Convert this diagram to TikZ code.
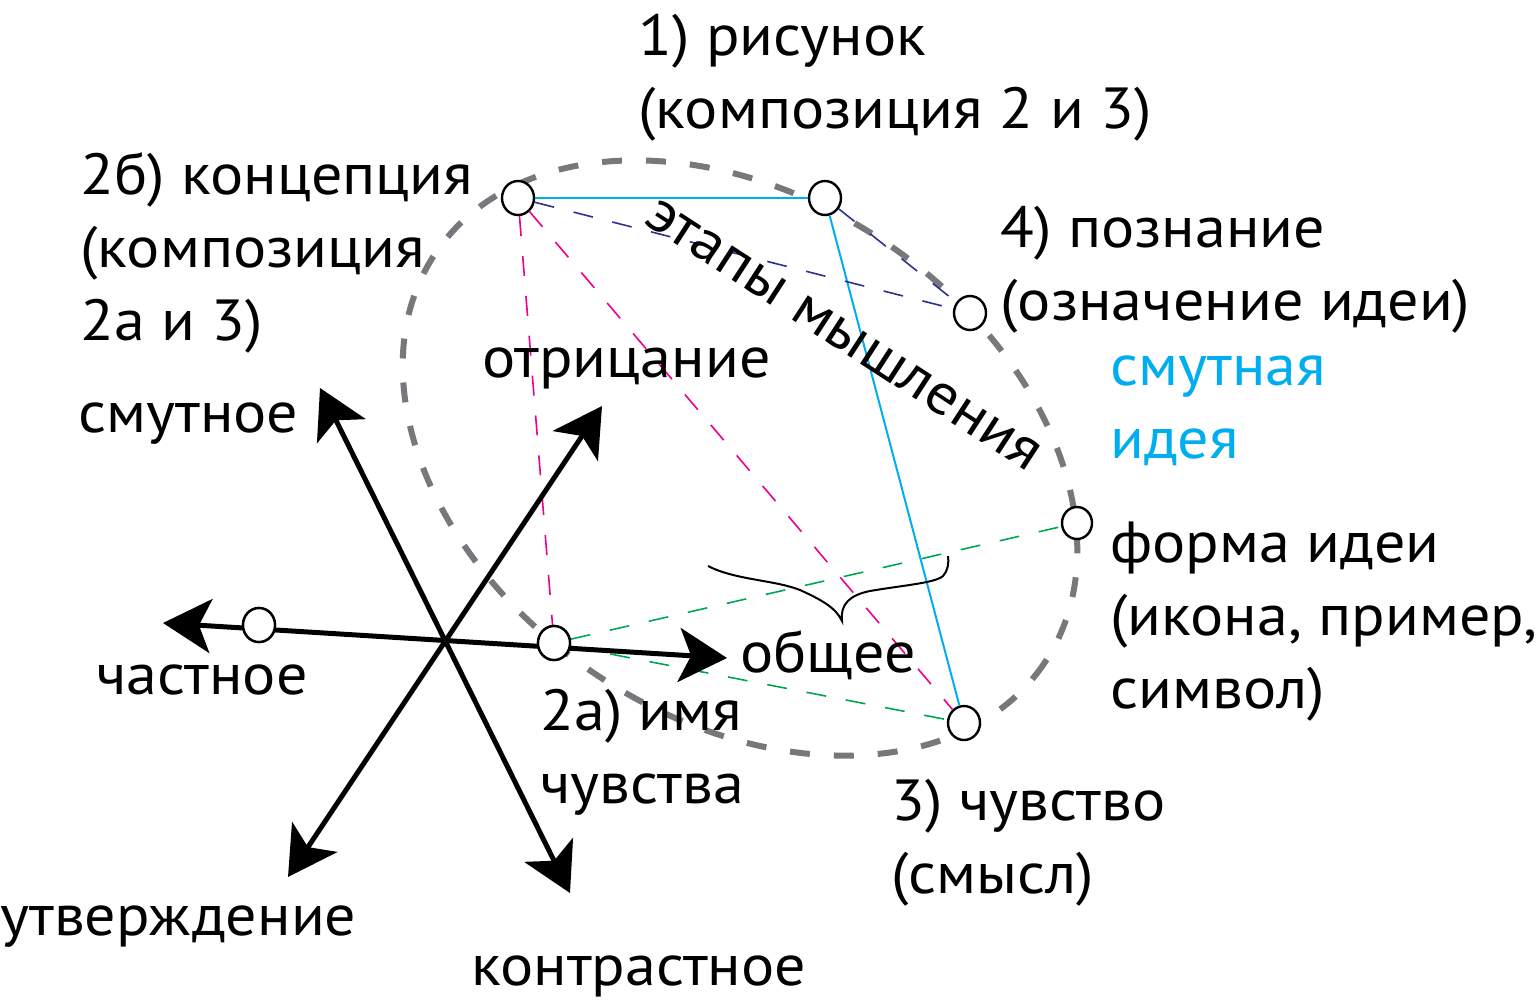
\documentclass[tikz,border=0pt]{standalone}
\usepackage{fontspec}
\setmainfont{PT Sans}[FakeStretch=1.07]
\usetikzlibrary{arrows.meta,shapes.geometric}
\definecolor{cy}{RGB}{0,174,239}
\definecolor{mg}{RGB}{236,0,140}
\definecolor{nv}{RGB}{46,49,146}
\definecolor{gr}{RGB}{0,166,81}
\definecolor{gy}{RGB}{119,120,123}
\begin{document}
\begin{tikzpicture}[x=0.5pt,y=-0.5pt,
  lbl/.style={anchor=base west, inner sep=0pt, font=\fontsize{29pt}{36.5pt}\selectfont, align=left},
  dot/.style={draw=black, fill=white, ellipse, line width=1.2pt, minimum width=16pt, minimum height=17pt, inner sep=0pt},
  thinsolid/.style={line width=1pt},
  thindash/.style={line width=0.8pt, dash pattern=on 10pt off 10pt},
  axis/.style={line width=2.5pt, {Stealth[length=24pt,width=27pt,inset=6pt]}-{Stealth[length=24pt,width=27pt,inset=6pt]}},
  bigring/.style={draw=gy, line width=3pt, dash pattern=on 10pt off 12pt}]
\useasboundingbox (0,0) rectangle (1540,1001);
% big dashed ellipse
\draw[bigring, rotate around={-34:(740,458)}] (740,458) ellipse (367 and 260);
% circles
\node[dot] (c2b) at (518,198) {};
\node[dot] (c1) at (825,198) {};
\node[dot] (c4) at (970,313) {};
\node[dot, minimum width=15pt, minimum height=16pt] (cf) at (1077,523) {};
\node[dot] (c3) at (964,723) {};
\node[dot] (c2a) at (554,643) {};
\node[dot] (cch) at (259,625) {};
% axis end points
\coordinate (aS) at (320,388);
\coordinate (aK) at (570,893);
\coordinate (aO) at (602,406);
\coordinate (aU) at (288,877);
\coordinate (aC) at (163,623);
\coordinate (aG) at (727,658);
% thin connectors
\draw[thinsolid, cy] (c2b) -- (c1);
\draw[thinsolid, cy] (c1) -- (c3);
\draw[thindash, nv] (c2b) -- (c4);
\draw[thindash, nv] (c1) -- (c4);
\draw[thindash, mg] (c2b) -- (c2a);
\draw[thindash, mg] (c2b) -- (c3);
\draw[thindash, gr] (c2a) -- (cf);
\draw[thindash, gr] (c2a) -- (c3);
% axes
\draw[axis] (aS) -- (aK);
\draw[axis] (aO) -- (aU);
\draw[axis] (aC) -- (aG);
% redraw circles on top
\node[dot] at (c2a) {};
\node[dot] at (cch) {};
% brace
\draw[line width=1pt] (708,566) .. controls (735,580) and (775,580) .. (800,590)
  .. controls (822,600) and (836,608) .. (842,621)
  .. controls (840,604) and (850,595) .. (870,591)
  .. controls (905,585) and (935,583) .. (943,576)
  .. controls (948,571) and (949,562) .. (948,556);
% labels (base anchor = baseline of last line)
\node[lbl] (t1) at (638,128) {1) рисунок\\(композиция 2 и 3)};
\node[lbl] (t2b) at (80,340) {2б) концепция\\(композиция\\2а и 3)};
\node[lbl] (t4) at (1000,320) {4) познание\\(означение идеи)};
\node[lbl, text=cy] (tsm) at (1110,458) {смутная\\идея};
\node[lbl] (tform) at (1110,708) {форма идеи\\(икона, пример,\\символ)};
\node[lbl] (totr) at (482,377) {отрицание};
\node[lbl] (tsmut) at (78,432) {смутное};
\node[lbl] (tchast) at (96,694) {частное};
\node[lbl] (tobsh) at (740,672) {общее};
\node[lbl] (t2a) at (540,803) {2а) имя\\чувства};
\node[lbl] (t3) at (891,893) {3) чувство\\(смысл)};
\node[lbl] (tutv) at (0,935) {утверждение};
\node[lbl] (tkon) at (471,985) {контрастное};
\node[lbl, rotate=-33] (tet) at (642,222) {этапы мышления};
\end{tikzpicture}
\end{document}
